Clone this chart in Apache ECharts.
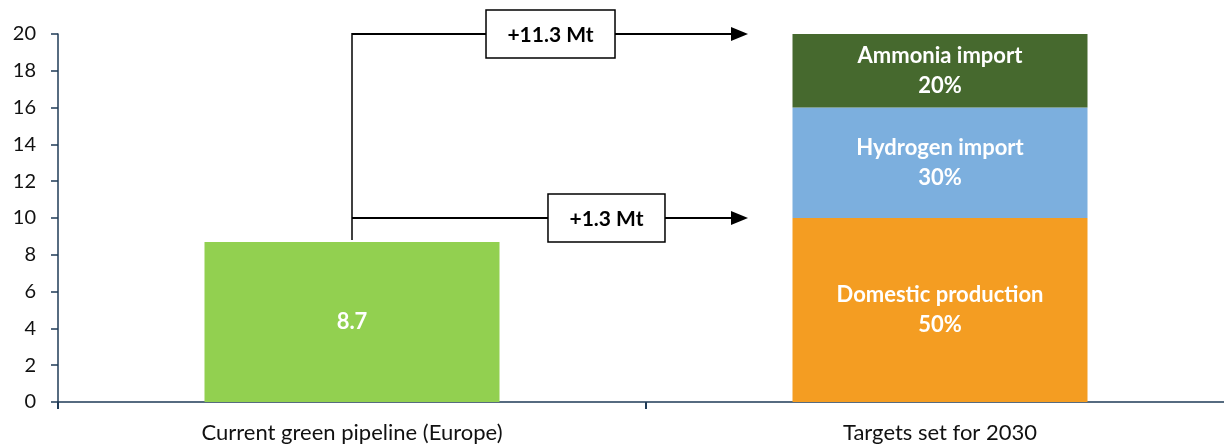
<!DOCTYPE html>
<html>
<head>
<meta charset="utf-8">
<script src="https://cdn.jsdelivr.net/npm/echarts@6/dist/echarts.min.js"></script>
<style>html,body{margin:0;padding:0;background:#fff}#c{width:1224px;height:444px}</style>
</head>
<body>
<div id="c"></div>
<script>
// ---- data ----
var categories = ['Current green pipeline (Europe)', 'Targets set for 2030'];
var pipelineValues = [8.7, '-'];
var domesticValues = ['-', 10];
var hydrogenValues = ['-', 6];
var ammoniaValues = ['-', 4];
var segmentLabels = ['Domestic production\n50%', 'Hydrogen import\n30%', 'Ammonia import\n20%'];
var yTicks = [0, 2, 4, 6, 8, 10, 12, 14, 16, 18, 20];
var gapStart = 8.7;
var gapLevels = [20, 10];
var gapLabels = ['+11.3 Mt', '+1.3 Mt'];

// ---- layout (not data) ----
var FONT = 'Lato, "Open Sans", sans-serif';
var AXIS = '#1f3b57';
// positions on hidden helper x axis (-0.5 .. 1.5 = category bands)
var arrowStartX = 0;
var arrowEndX = [0.6735, 0.6735];
var boxCenterX = [0.3376, 0.4328];
var boxW = [129, 117];
var boxH = 48;

var chart = echarts.init(document.getElementById('c'));

function barLabel(text) {
  return {
    show: true, position: 'inside', color: '#fff', fontFamily: FONT,
    fontWeight: 'bold', fontSize: 22, lineHeight: 30,
    formatter: function () { return text; }
  };
}

var option = {
  animation: false,
  grid: { left: 58, width: 1176, top: 34, bottom: 42, containLabel: false, outerBoundsMode: 'none' },
  xAxis: [{
    type: 'category', data: categories,
    axisLine: { lineStyle: { color: AXIS, width: 1.5 } },
    axisTick: { show: true, length: 7, lineStyle: { color: AXIS, width: 2 }, alignWithLabel: false },
    axisLabel: { color: '#111', fontFamily: FONT, fontSize: 22, margin: 20 },
    splitLine: { show: false }
  }, {
    type: 'value', min: -0.5, max: 1.5, show: false
  }],
  yAxis: {
    type: 'value', min: 0, max: 20, interval: 2,
    axisLine: { show: true, onZero: false, lineStyle: { color: AXIS, width: 1.5 } },
    axisTick: { show: true, length: 7, lineStyle: { color: AXIS, width: 1.5 } },
    axisLabel: { color: '#111', fontFamily: FONT, fontSize: 20, margin: 22,
      formatter: function (v) { return yTicks.indexOf(v) >= 0 ? String(v) : ''; } },
    splitLine: { show: false }
  },
  series: [
    { type: 'bar', name: 'Current', stack: 't', data: pipelineValues, barWidth: 295,
      itemStyle: { color: '#92d050' },
      label: { show: true, position: 'inside', color: '#fff', fontFamily: FONT, fontWeight: 'bold', fontSize: 22 } },
    { type: 'bar', name: 'Domestic', stack: 't', data: domesticValues, barWidth: 295,
      itemStyle: { color: '#f49d22' }, label: barLabel(segmentLabels[0]) },
    { type: 'bar', name: 'Hydrogen', stack: 't', data: hydrogenValues, barWidth: 295,
      itemStyle: { color: '#7cafde' }, label: barLabel(segmentLabels[1]) },
    { type: 'bar', name: 'Ammonia', stack: 't', data: ammoniaValues, barWidth: 295,
      itemStyle: { color: '#46692e' }, label: barLabel(segmentLabels[2]) },
    {
      type: 'custom', xAxisIndex: 1, yAxisIndex: 0, silent: true, z: 10,
      data: gapLevels.map(function (lv, i) { return [i, lv]; }),
      renderItem: function (params, api) {
        var i = api.value(0);
        var lv = api.value(1);
        var children = [];
        var p0 = api.coord([arrowStartX, lv]);
        var p1 = api.coord([arrowEndX[i], lv]);
        var pc = api.coord([boxCenterX[i], lv]);
        if (i === 0) {
          var pb = api.coord([arrowStartX, gapStart]);
          children.push({ type: 'line', shape: { x1: p0[0], y1: p0[1] - 1, x2: pb[0], y2: pb[1] - 2 },
            style: { stroke: '#000', lineWidth: 1.5 } });
        }
        children.push({ type: 'line', shape: { x1: p0[0], y1: p0[1], x2: p1[0] - 16, y2: p1[1] },
          style: { stroke: '#000', lineWidth: 2 } });
        children.push({ type: 'polygon', shape: { points: [[p1[0] - 17, p1[1] - 7], [p1[0], p1[1]], [p1[0] - 17, p1[1] + 7]] },
          style: { fill: '#000' } });
        children.push({ type: 'rect', shape: { x: pc[0] - boxW[i] / 2, y: pc[1] - boxH / 2, width: boxW[i], height: boxH },
          style: { fill: '#fff', stroke: '#000', lineWidth: 1.5 } });
        children.push({ type: 'text', x: pc[0], y: pc[1] + 1,
          style: { text: gapLabels[i], fill: '#000', font: 'bold 21px ' + FONT, align: 'center', verticalAlign: 'middle' } });
        return { type: 'group', children: children };
      }
    }
  ]
};
chart.setOption(option);
</script>
</body>
</html>
